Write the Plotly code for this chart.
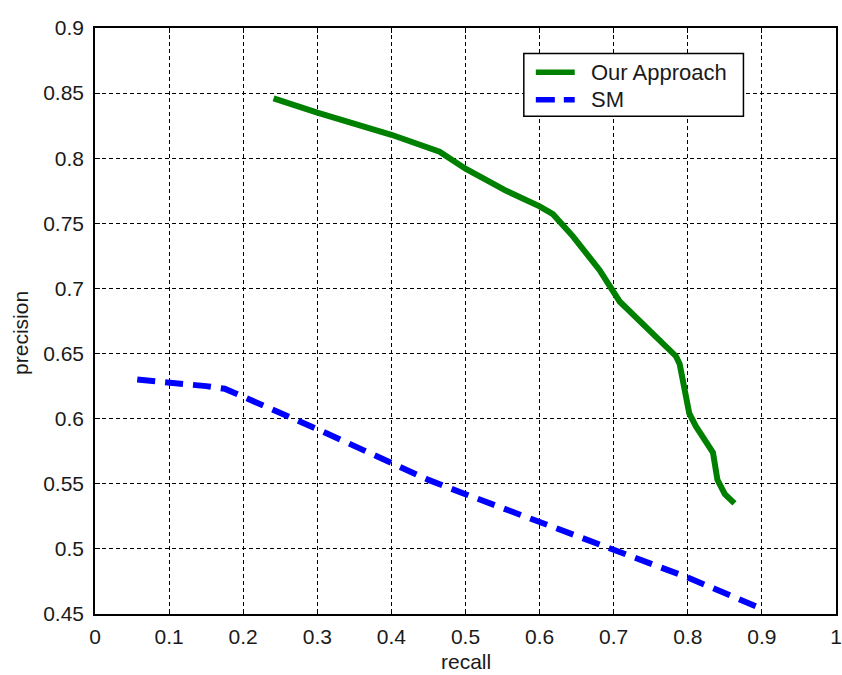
import plotly.graph_objects as go

# Data
our_recall = [0.241, 0.30, 0.40, 0.443, 0.465, 0.50, 0.555, 0.60, 0.618, 0.645, 0.681, 0.708,
              0.784, 0.789, 0.802, 0.811, 0.834, 0.840, 0.850, 0.863]
our_precision = [0.846, 0.835, 0.818, 0.810, 0.805, 0.792, 0.775, 0.763, 0.757, 0.740, 0.714, 0.690,
                 0.648, 0.642, 0.604, 0.594, 0.574, 0.553, 0.542, 0.535]

sm_recall = [0.057, 0.08, 0.10, 0.15, 0.175, 0.20, 0.25, 0.30, 0.40, 0.45, 0.50, 0.60, 0.70, 0.80, 0.90]
sm_precision = [0.630, 0.629, 0.628, 0.625, 0.623, 0.617, 0.605, 0.592, 0.566, 0.553, 0.542, 0.521,
                0.499, 0.478, 0.454]

series_names = ["Our Approach", "SM"]
series_colors = ["#008000", "#0000FF"]
series_dash = ["solid", "18px,10px"]

x_ticks = [0, 0.1, 0.2, 0.3, 0.4, 0.5, 0.6, 0.7, 0.8, 0.9, 1]
x_ticktext = ["0", "0.1", "0.2", "0.3", "0.4", "0.5", "0.6", "0.7", "0.8", "0.9", "1"]
y_ticks = [0.45, 0.5, 0.55, 0.6, 0.65, 0.7, 0.75, 0.8, 0.85, 0.9]
y_ticktext = ["0.45", "0.5", "0.55", "0.6", "0.65", "0.7", "0.75", "0.8", "0.85", "0.9"]

fig = go.Figure()
for xs, ys, name, col, dash in zip([our_recall, sm_recall], [our_precision, sm_precision],
                                   series_names, series_colors, series_dash):
    fig.add_trace(go.Scatter(x=xs, y=ys, mode="lines", name=name, showlegend=False,
                             line=dict(color=col, width=6, dash=dash)))

font = "Liberation Sans, Arial, sans-serif"
txt = "#1a1a1a"
axis_common = dict(
    showline=True, linecolor="black", linewidth=1.5, mirror="ticks",
    ticks="inside", ticklen=5, tickcolor="black",
    showgrid=True, gridcolor="black", gridwidth=1, griddash="4px,3px",
    zeroline=False, tickfont=dict(family=font, size=21, color=txt),
    automargin=False,
)

# Matlab-style legend box (paper coordinates)
box_x0, box_x1, box_y0, box_y1 = 0.5787, 0.8751, 0.8492, 0.9563
sample_x0, sample_x1, label_x = 0.5949, 0.6474, 0.6663
entry_y = [0.9246, 0.8776]
legend_dash = ["solid", "19px,9px"]

shapes = [dict(type="rect", xref="paper", yref="paper", x0=box_x0, x1=box_x1, y0=box_y0, y1=box_y1,
               line=dict(color="black", width=1.5), fillcolor="white", layer="above")]
annotations = []
for name, col, dash, ey in zip(series_names, series_colors, legend_dash, entry_y):
    shapes.append(dict(type="line", xref="paper", yref="paper", x0=sample_x0, x1=sample_x1,
                       y0=ey, y1=ey, line=dict(color=col, width=5.5, dash=dash), layer="above"))
    annotations.append(dict(text=name, xref="paper", yref="paper", x=label_x, y=ey,
                            xanchor="left", yanchor="middle", showarrow=False,
                            font=dict(family=font, size=22, color=txt)))

annotations += [
    dict(text="recall", xref="paper", yref="paper", x=0.5, y=-0.0814,
         xanchor="center", yanchor="middle", showarrow=False,
         font=dict(family=font, size=21, color=txt)),
    dict(text="precision", xref="paper", yref="paper", x=-0.1004, y=0.479,
         xanchor="center", yanchor="middle", showarrow=False, textangle=-90,
         font=dict(family=font, size=21, color=txt)),
]

fig.update_layout(
    width=842, height=675,
    margin=dict(l=94.5, r=5.5, t=27.5, b=60.5),
    plot_bgcolor="white", paper_bgcolor="white",
    font=dict(family=font, size=21, color=txt),
    xaxis=dict(range=[0, 1], tickvals=x_ticks, ticktext=x_ticktext,
               ticklabelstandoff=3, **axis_common),
    yaxis=dict(range=[0.45, 0.9], tickvals=y_ticks, ticktext=y_ticktext,
               ticklabelstandoff=5, **axis_common),
    showlegend=False,
    shapes=shapes,
    annotations=annotations,
)

# Remove the default 8px page margin so the figure fills the window exactly.
fig.write_html("out.html", config={"displayModeBar": False},
               post_script="document.body.style.margin='0';document.body.style.overflow='hidden';")
